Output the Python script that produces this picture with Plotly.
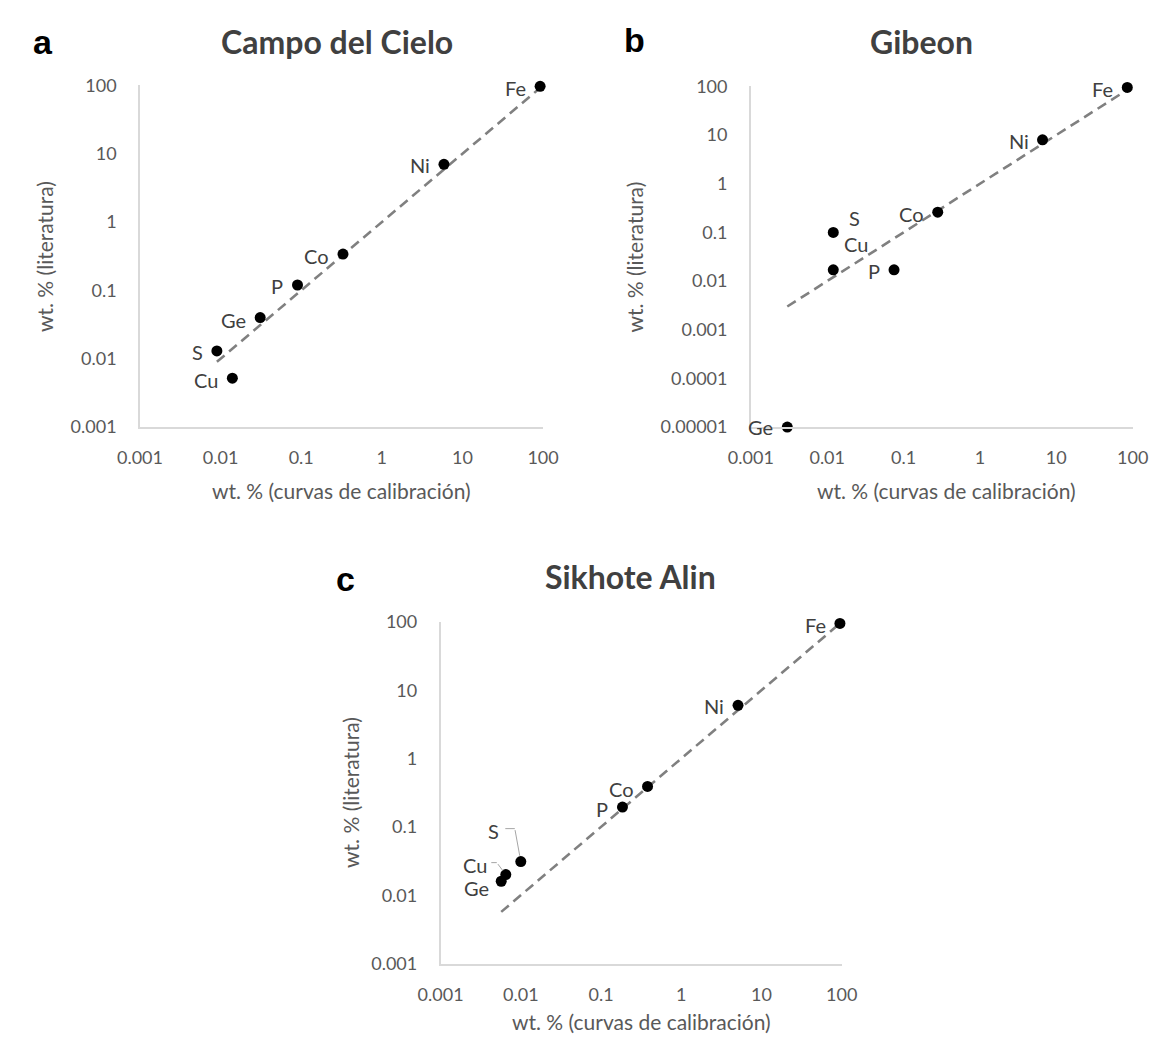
import numpy as np
import plotly.graph_objects as go

# ---------------- data ----------------
elements = ["Fe", "Ni", "Co", "P", "Ge", "S", "Cu"]

campo_x = [92, 5.9, 0.33, 0.09, 0.031, 0.009, 0.014]
campo_y = [97, 7.0, 0.34, 0.12, 0.040, 0.013, 0.0052]

gibeon_x = [85, 6.6, 0.28, 0.075, 0.003, 0.012, 0.012]
gibeon_y = [95, 8.0, 0.26, 0.017, 0.00001, 0.10, 0.017]

sikhote_x = [95, 5.1, 0.38, 0.185, 0.0057, 0.010, 0.0065]
sikhote_y = [95, 6.0, 0.39, 0.195, 0.016, 0.031, 0.020]

titles = ["Campo del Cielo", "Gibeon", "Sikhote Alin"]
letters = ["a", "b", "c"]

x_ticks = [0.001, 0.01, 0.1, 1, 10, 100]
x_tick_labels = ["0.001", "0.01", "0.1", "1", "10", "100"]
y_ticks_ac = [0.001, 0.01, 0.1, 1, 10, 100]
y_tick_labels_ac = ["0.001", "0.01", "0.1", "1", "10", "100"]
y_ticks_b = [0.00001, 0.0001, 0.001, 0.01, 0.1, 1, 10, 100]
y_tick_labels_b = ["0.00001", "0.0001", "0.001", "0.01", "0.1", "1", "10", "100"]

x_title = "wt. % (curvas de calibración)"
y_title = "wt. % (literatura)"

# ---------------- styling / layout ----------------
W, H = 1168, 1044
FONT = "Lato"
TICK_COLOR = "#595959"
LABEL_COLOR = "#404040"
AXIS_LINE = "#d9d9d9"

def px(x):
    return x / W

def py(y):
    return 1 - y / H

# plot-area pixel boxes: (left, right, top, bottom)
boxes = [(121, 538, 75, 424), (753, 1148, 76, 424), (432, 847, 623, 972)]

# label placement: (xanchor, xshift, yshift) in px
L = lambda dy=0: ("right", -12, dy)
offs = [
    {"Fe": L(-2), "Ni": L(-1), "Co": L(-2), "P": L(-1),
     "Ge": L(-2), "S": L(-1), "Cu": L(-2)},
    {"Fe": L(-2), "Ni": L(-1), "Co": L(-2), "P": L(-1),
     "Ge": L(0), "S": ("left", 14, 14), "Cu": ("left", 9, 26)},
    {"Fe": L(-2), "Ni": L(-1), "Co": L(-3), "P": L(-2),
     "Ge": ("right", -10, -7), "S": ("right", -20, 31), "Cu": ("right", -17, 10)},
]

datasets = [(campo_x, campo_y), (gibeon_x, gibeon_y), (sikhote_x, sikhote_y)]
yranges = [[-3, 2], [-5, 2], [-3, 2]]
yticks = [(y_ticks_ac, y_tick_labels_ac), (y_ticks_b, y_tick_labels_b),
          (y_ticks_ac, y_tick_labels_ac)]

fig = go.Figure()
annotations = []
layout_axes = {}

for i, ((xs, ys), box) in enumerate(zip(datasets, boxes)):
    n = "" if i == 0 else str(i + 1)
    xa, ya = "x" + n, "y" + n
    l, r, t, b = box

    # 1:1 reference line spanning the data range
    lo, hi = min(xs), max(xs)
    fig.add_trace(go.Scatter(
        x=[lo, hi], y=[lo, hi], mode="lines", xaxis=xa, yaxis=ya,
        line=dict(color="#808080", width=2.6, dash="10px,6px"),
        hoverinfo="skip", cliponaxis=False))
    fig.add_trace(go.Scatter(
        x=xs, y=ys, mode="markers", xaxis=xa, yaxis=ya,
        marker=dict(color="black", size=11, line=dict(width=0)),
        cliponaxis=False, text=elements))

    for el, xv, yv in zip(elements, xs, ys):
        anc, dx, dy = offs[i][el]
        annotations.append(dict(
            x=np.log10(xv), y=np.log10(yv), xref=xa, yref=ya,
            text=el, showarrow=False, xanchor=anc, yanchor="middle",
            xshift=dx, yshift=dy,
            font=dict(family=FONT, size=20, color=LABEL_COLOR)))

    layout_axes["xaxis" + n] = dict(
        type="log", domain=[px(l), px(r)], range=[-3, 2], anchor=ya,
        showgrid=False, zeroline=False, showline=True, linecolor=AXIS_LINE,
        linewidth=1.5, ticks="", tickvals=x_ticks, ticktext=x_tick_labels,
        tickfont=dict(family=FONT, size=18, color=TICK_COLOR),
        ticklabelstandoff=14)
    layout_axes["yaxis" + n] = dict(
        type="log", domain=[py(b), py(t)], range=yranges[i], anchor=xa,
        showgrid=False, zeroline=False, showline=True, linecolor=AXIS_LINE,
        linewidth=1.5, ticks="", tickvals=yticks[i][0], ticktext=yticks[i][1],
        tickfont=dict(family=FONT, size=18, color=TICK_COLOR),
        ticklabelstandoff=18)

# leader lines for S and Cu in panel c
lead = dict(xref="x3", yref="y3", text="", showarrow=True, arrowhead=0,
            arrowwidth=1, arrowcolor="#a6a6a6")
sx, sy = np.log10(sikhote_x[5]), np.log10(sikhote_y[5])
cx, cy = np.log10(sikhote_x[6]), np.log10(sikhote_y[6])
annotations += [
    dict(lead, x=sx, y=sy, ax=-6, ay=-33, standoff=6),
    dict(lead, x=sx, y=sy, xshift=-6, yshift=33, ax=-11, ay=0, standoff=0),
    dict(lead, x=cx, y=cy, ax=-9, ay=-12, standoff=5),
    dict(lead, x=cx, y=cy, xshift=-9, yshift=12, ax=-7, ay=0, standoff=0),
]

# titles, panel letters, axis titles
title_pos = [(325, 30), (930, 30), (628, 577)]
letter_pos = [(21, 31), (633, 29), (334, 579)]
xt_pos = [(330, 489), (955, 489), (640, 1031)]
yt_pos = [(22, 250), (633, 250), (338, 797)]
for i in range(3):
    annotations.append(dict(
        x=px(title_pos[i][0]), y=py(title_pos[i][1]), xref="paper", yref="paper",
        text="<b>%s</b>" % titles[i], showarrow=False, xanchor="center",
        yanchor="middle", font=dict(family=FONT, size=32, color="#404040")))
    annotations.append(dict(
        x=px(letter_pos[i][0]), y=py(letter_pos[i][1]), xref="paper", yref="paper",
        text="<b>%s</b>" % letters[i], showarrow=False, xanchor="center",
        yanchor="middle", font=dict(family="Liberation Sans", size=34, color="black")))
    annotations.append(dict(
        x=px(xt_pos[i][0]), y=py(xt_pos[i][1]), xref="paper", yref="paper",
        text=x_title, showarrow=False, xanchor="center", yanchor="middle",
        font=dict(family=FONT, size=21, color=TICK_COLOR)))
    annotations.append(dict(
        x=px(yt_pos[i][0]), y=py(yt_pos[i][1]), xref="paper", yref="paper",
        text=y_title, showarrow=False, xanchor="center", yanchor="middle",
        textangle=-90, font=dict(family=FONT, size=21, color=TICK_COLOR)))

fig.update_layout(
    width=W, height=H, margin=dict(l=0, r=0, t=0, b=0),
    paper_bgcolor="white", plot_bgcolor="white", showlegend=False,
    annotations=annotations, **layout_axes)

fig.write_html("out.html", post_script="document.body.style.margin='0';")
